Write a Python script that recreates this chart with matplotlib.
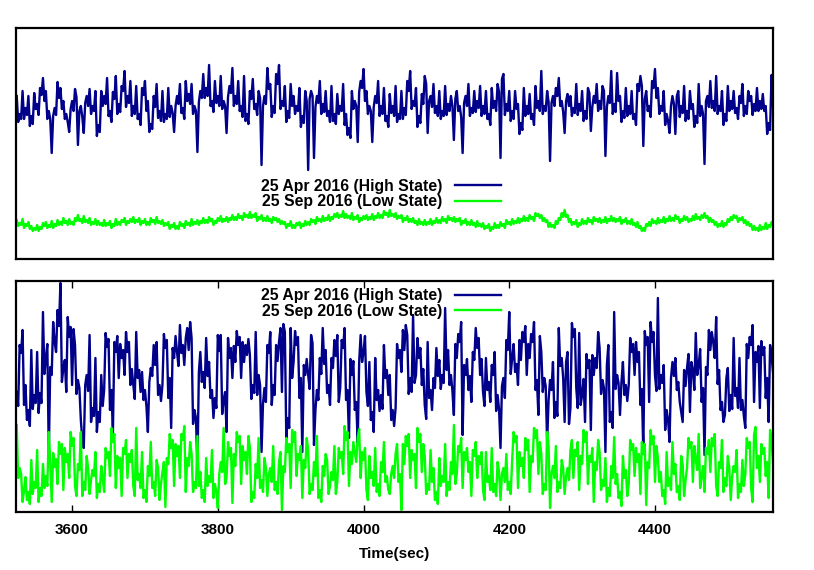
import numpy as np
import matplotlib
matplotlib.use("Agg")
import matplotlib.pyplot as plt

plt.rcParams['font.family'] = ['Liberation Sans', 'DejaVu Sans']

# ---- time axis (s) ----
t_start = 3524
t_step = 2

# ---- top panel: 25 Apr 2016 (High State), relative rate ----
top_high = [
    159, 133, 141, 136, 164, 136, 147, 140, 159, 129, 139, 131, 162, 146, 151, 140, 167, 160, 177, 154,
    164, 136, 144, 136, 102, 139, 147, 140, 173, 157, 167, 146, 154, 136, 141, 133, 123, 146, 154, 144,
    166, 158, 110, 144, 149, 138, 122, 152, 159, 149, 166, 141, 149, 144, 164, 119, 130, 123, 164, 149,
    159, 151, 177, 139, 144, 133, 163, 156, 179, 141, 151, 143, 169, 164, 184, 148, 159, 152, 174, 139,
    149, 141, 169, 136, 141, 130, 167, 160, 174, 144, 154, 123, 131, 126, 159, 148, 171, 137, 144, 134,
    164, 133, 141, 136, 167, 138, 149, 142, 123, 149, 159, 151, 171, 142, 147, 136, 174, 154, 161, 151,
    171, 141, 149, 144, 103, 153, 164, 157, 181, 157, 167, 159, 190, 149, 154, 143, 174, 152, 159, 149,
    179, 146, 154, 149, 122, 158, 169, 162, 187, 149, 159, 151, 174, 144, 149, 138, 179, 134, 141, 131,
    164, 156, 176, 146, 151, 140, 164, 157, 90, 149, 159, 151, 187, 166, 171, 138, 149, 142, 181, 171,
    190, 146, 154, 149, 169, 133, 144, 137, 171, 149, 159, 141, 149, 144, 167, 128, 139, 132, 164, 154,
    85, 156, 164, 159, 97, 148, 159, 152, 174, 141, 151, 143, 164, 139, 144, 133, 169, 134, 141, 131,
    161, 141, 149, 144, 171, 130, 141, 120, 127, 117, 164, 146, 154, 149, 113, 163, 174, 167, 186, 154,
    164, 141, 149, 144, 113, 148, 159, 152, 174, 139, 149, 141, 167, 134, 139, 128, 161, 142, 149, 139,
    169, 133, 141, 136, 164, 136, 147, 140, 174, 164, 184, 146, 154, 149, 167, 128, 139, 132, 161, 151,
    179, 171, 122, 154, 159, 148, 171, 142, 149, 139, 164, 136, 144, 139, 169, 140, 151, 144, 159, 149,
    115, 156, 164, 144, 149, 138, 102, 152, 159, 149, 171, 139, 147, 142, 164, 143, 154, 147, 169, 139,
    149, 141, 164, 136, 141, 130, 167, 147, 154, 144, 171, 163, 97, 176, 181, 140, 151, 144, 164, 134,
    144, 136, 164, 146, 151, 121, 132, 125, 167, 139, 149, 141, 161, 136, 141, 130, 169, 147, 154, 144,
    184, 141, 149, 144, 164, 153, 94, 152, 159, 149, 167, 159, 177, 149, 154, 143, 122, 154, 161, 149,
    159, 139, 147, 142, 171, 140, 151, 144, 164, 134, 144, 136, 167, 162, 124, 148, 159, 152, 171, 144,
    154, 146, 169, 164, 99, 148, 159, 152, 184, 141, 151, 143, 182, 154, 159, 133, 144, 137, 167, 139,
    149, 141, 164, 136, 141, 130, 171, 164, 179, 169, 109, 156, 164, 144, 149, 138, 174, 167, 186, 157,
    167, 141, 149, 144, 164, 130, 141, 134, 122, 149, 159, 151, 121, 159, 164, 138, 149, 142, 169, 134,
    144, 136, 164, 146, 151, 128, 139, 132, 171, 139, 149, 141, 91, 154, 159, 148, 174, 147, 154, 144,
    179, 141, 149, 144, 164, 130, 141, 134, 169, 144, 154, 146, 164, 142, 147, 136, 159, 152, 171, 139,
    149, 141, 164, 154, 159, 140, 151, 144, 167, 144, 154, 146, 161, 144, 149, 121, 132, 125, 180, 150,
]

# ---- top panel: 25 Sep 2016 (Low State) ----
top_low = [
    35, 29, 32, 30, 36, 27, 31, 29, 33, 26, 29, 24, 27, 25, 30, 24, 28, 26, 32, 29,
    33, 27, 30, 28, 34, 27, 31, 29, 35, 30, 33, 30, 37, 32, 34, 30, 36, 31, 33, 30,
    37, 34, 40, 34, 36, 32, 39, 33, 35, 32, 37, 30, 33, 31, 36, 30, 34, 30, 32, 29,
    35, 29, 32, 30, 34, 27, 31, 29, 36, 30, 33, 30, 35, 33, 37, 30, 34, 32, 36, 33,
    38, 32, 35, 33, 37, 30, 34, 32, 36, 30, 33, 30, 37, 33, 35, 31, 38, 32, 34, 31,
    35, 29, 32, 30, 33, 26, 30, 28, 32, 26, 29, 26, 33, 29, 31, 27, 34, 30, 32, 29,
    36, 30, 33, 31, 35, 30, 34, 32, 37, 32, 35, 32, 38, 34, 36, 30, 34, 32, 37, 34,
    39, 33, 36, 34, 38, 33, 37, 35, 40, 35, 38, 35, 41, 37, 39, 35, 42, 38, 40, 37,
    43, 37, 40, 38, 42, 34, 38, 36, 40, 34, 37, 34, 39, 34, 36, 32, 38, 35, 37, 33,
    36, 31, 34, 31, 33, 27, 31, 29, 34, 27, 30, 27, 32, 30, 33, 27, 31, 29, 34, 30,
    33, 30, 36, 33, 35, 31, 38, 34, 36, 33, 39, 34, 37, 35, 40, 34, 38, 36, 41, 38,
    42, 37, 40, 38, 44, 37, 41, 37, 39, 36, 42, 35, 38, 36, 40, 33, 37, 35, 39, 36,
    40, 35, 38, 36, 41, 35, 39, 37, 42, 37, 40, 37, 44, 40, 42, 38, 45, 39, 41, 38,
    42, 36, 39, 37, 40, 33, 37, 35, 39, 33, 36, 33, 37, 32, 34, 30, 36, 31, 33, 30,
    35, 30, 33, 31, 36, 30, 34, 32, 37, 32, 35, 32, 38, 34, 36, 32, 39, 35, 37, 34,
    38, 33, 36, 34, 37, 30, 34, 32, 36, 30, 33, 30, 35, 30, 32, 28, 34, 29, 31, 28,
    32, 26, 29, 27, 31, 24, 28, 26, 32, 27, 30, 27, 33, 29, 31, 27, 35, 31, 33, 30,
    36, 31, 34, 32, 37, 32, 36, 34, 39, 34, 37, 34, 40, 36, 38, 34, 42, 39, 41, 37,
    40, 34, 37, 33, 35, 28, 32, 28, 30, 27, 34, 31, 37, 35, 42, 38, 45, 38, 40, 33,
    36, 30, 33, 31, 35, 28, 32, 30, 36, 31, 34, 31, 37, 33, 35, 31, 38, 34, 36, 33,
    37, 32, 35, 33, 38, 32, 36, 34, 39, 34, 37, 33, 36, 34, 38, 31, 35, 33, 37, 31,
    34, 31, 36, 30, 32, 28, 33, 27, 29, 24, 27, 24, 31, 29, 33, 29, 36, 32, 34, 31,
    37, 32, 35, 33, 38, 32, 36, 34, 39, 34, 37, 34, 40, 36, 38, 32, 36, 34, 39, 35,
    38, 33, 36, 34, 39, 35, 41, 36, 38, 35, 40, 37, 42, 37, 39, 33, 37, 33, 35, 30,
    33, 28, 31, 29, 34, 28, 32, 30, 36, 33, 38, 35, 40, 37, 39, 33, 37, 35, 38, 32,
    35, 30, 33, 29, 31, 25, 29, 25, 27, 24, 30, 25, 28, 26, 32, 26, 30, 28, 33, 30,
]

# ---- bottom panel: 25 Apr 2016 (High State) ----
bot_high = [
    120, 106, 167, 159, 182, 107, 127, 92, 102, 86, 162, 103, 117, 109, 160, 99, 119, 109, 200, 138,
    154, 168, 57, 145, 137, 190, 170, 160, 202, 186, 229, 130, 144, 152, 120, 195, 175, 185, 127, 183,
    167, 118, 132, 124, 92, 72, 64, 127, 137, 121, 177, 90, 104, 96, 154, 80, 100, 90, 137, 106,
    122, 179, 165, 173, 102, 122, 79, 170, 160, 176, 134, 168, 154, 162, 137, 180, 160, 170, 127, 143,
    127, 113, 180, 134, 142, 120, 140, 112, 122, 106, 80, 130, 144, 136, 167, 147, 170, 117, 127, 111,
    127, 178, 164, 172, 114, 134, 84, 164, 154, 176, 160, 146, 187, 159, 167, 147, 174, 184, 162, 190,
    174, 88, 102, 94, 44, 140, 160, 130, 140, 124, 174, 136, 150, 114, 122, 94, 114, 104, 177, 161,
    177, 98, 112, 120, 80, 174, 154, 164, 134, 166, 150, 181, 167, 175, 134, 170, 150, 167, 157, 173,
    157, 113, 127, 119, 180, 117, 137, 127, 60, 108, 124, 110, 167, 159, 180, 107, 127, 117, 167, 151,
    170, 184, 120, 188, 180, 74, 94, 84, 184, 134, 150, 181, 167, 175, 114, 134, 60, 147, 137, 153,
    137, 123, 177, 169, 67, 102, 122, 112, 154, 138, 184, 148, 162, 119, 127, 107, 154, 144, 172, 156,
    177, 110, 124, 172, 164, 184, 112, 122, 74, 153, 137, 151, 102, 110, 69, 150, 177, 150, 160, 176,
    120, 106, 150, 92, 100, 80, 154, 112, 122, 101, 117, 103, 167, 134, 142, 117, 137, 92, 102, 86,
    104, 168, 154, 162, 140, 182, 162, 187, 177, 118, 134, 120, 197, 129, 137, 174, 154, 164, 127, 143,
    107, 93, 170, 114, 122, 102, 134, 124, 164, 136, 152, 123, 137, 129, 204, 142, 162, 127, 137, 121,
    97, 168, 154, 178, 170, 190, 77, 147, 137, 153, 122, 136, 110, 160, 152, 184, 164, 174, 137, 153,
    120, 106, 154, 122, 130, 110, 147, 137, 160, 101, 117, 103, 64, 126, 134, 114, 172, 162, 200, 138,
    154, 168, 140, 148, 127, 172, 152, 180, 170, 186, 137, 168, 154, 178, 170, 190, 122, 132, 97, 176,
    160, 120, 134, 126, 70, 112, 132, 122, 150, 94, 110, 96, 184, 146, 154, 134, 90, 150, 160, 88,
    104, 189, 175, 183, 124, 104, 179, 107, 117, 133, 90, 158, 144, 152, 82, 157, 137, 154, 144, 180,
    164, 118, 132, 124, 60, 147, 167, 90, 100, 84, 200, 123, 137, 129, 97, 130, 150, 117, 127, 111,
    127, 174, 160, 168, 137, 170, 150, 160, 107, 123, 60, 181, 167, 175, 110, 190, 170, 180, 137, 121,
    214, 123, 137, 129, 147, 82, 102, 92, 70, 134, 150, 136, 154, 122, 130, 110, 100, 90, 142, 126,
    144, 158, 100, 150, 142, 122, 179, 137, 147, 163, 110, 124, 57, 145, 137, 182, 162, 180, 170, 154,
    195, 128, 142, 102, 110, 90, 97, 134, 144, 101, 117, 103, 174, 116, 124, 104, 154, 102, 112, 96,
    84, 168, 154, 175, 167, 187, 110, 160, 150, 166, 104, 171, 157, 165, 114, 134, 90, 167, 157, 140,
]

# ---- bottom panel: 25 Sep 2016 (Low State) ----
bot_low = [
    87, 34, 44, 38, 10, 21, 35, 12, 20, 8, 52, 18, 30, 24, 62, 10, 24, 16, 48, 24,
    36, 26, 80, 50, 10, 59, 45, 53, 28, 70, 58, 68, 22, 64, 50, 58, 34, 80, 66, 74,
    26, 16, 48, 42, 80, 16, 30, 22, 56, 44, 18, 32, 42, 36, 60, 14, 28, 20, 46, 34,
    20, 64, 54, 60, 36, 84, 70, 78, 24, 56, 44, 54, 16, 64, 58, 72, 34, 58, 50, 62,
    26, 16, 84, 32, 38, 24, 60, 14, 22, 10, 46, 36, 70, 24, 30, 16, 52, 44, 12, 28,
    40, 50, 5, 54, 48, 78, 64, 72, 26, 68, 56, 66, 34, 78, 72, 86, 20, 54, 46, 70,
    58, 20, 30, 24, 76, 26, 40, 14, 22, 10, 54, 26, 36, 30, 62, 14, 28, 20, 4, 38,
    50, 40, 84, 28, 34, 70, 56, 64, 9, 58, 46, 80, 70, 76, 28, 66, 52, 60, 38, 76,
    64, 10, 20, 14, 48, 34, 74, 24, 32, 20, 54, 44, 16, 38, 44, 30, 66, 22, 30, 18,
    50, 60, 2, 46, 40, 74, 60, 68, 24, 82, 70, 80, 36, 58, 52, 66, 14, 52, 44, 74,
    62, 18, 28, 22, 50, 36, 76, 14, 22, 10, 46, 36, 58, 52, 18, 26, 40, 32, 66, 18,
    30, 64, 54, 60, 38, 86, 72, 80, 26, 60, 48, 70, 60, 50, 75, 83, 34, 60, 52, 64,
    22, 12, 56, 34, 40, 26, 64, 20, 28, 16, 50, 40, 70, 30, 36, 22, 18, 38, 46, 34,
    58, 68, 30, 38, 2, 68, 48, 76, 66, 78, 34, 62, 52, 58, 24, 84, 70, 78, 40, 68,
    56, 18, 28, 22, 62, 30, 44, 12, 20, 8, 54, 26, 36, 30, 68, 16, 30, 22, 50, 38,
    87, 28, 38, 66, 60, 74, 24, 60, 52, 64, 40, 50, 16, 62, 56, 70, 34, 56, 48, 60,
    22, 12, 60, 30, 36, 22, 64, 20, 28, 16, 50, 40, 12, 38, 44, 30, 58, 22, 30, 18,
    52, 80, 70, 76, 24, 60, 46, 54, 34, 74, 62, 72, 20, 56, 50, 84, 74, 82, 38, 70,
    58, 18, 28, 22, 80, 66, 4, 38, 46, 34, 66, 20, 30, 24, 52, 44, 18, 36, 44, 32,
    62, 72, 34, 62, 56, 70, 22, 56, 48, 82, 70, 80, 28, 56, 50, 64, 10, 50, 42, 72,
    60, 22, 32, 26, 54, 10, 24, 16, 46, 34, 75, 28, 38, 14, 20, 6, 56, 34, 42, 16,
    28, 72, 62, 68, 36, 64, 50, 58, 18, 70, 58, 68, 7, 50, 44, 82, 68, 76, 30, 66,
    54, 30, 40, 16, 22, 8, 60, 26, 34, 22, 70, 38, 48, 20, 26, 12, 56, 48, 16, 32,
    44, 74, 64, 70, 30, 66, 52, 42, 78, 24, 36, 46, 20, 64, 58, 72, 40, 74, 66, 78,
    26, 16, 50, 44, 72, 20, 34, 26, 56, 44, 12, 36, 46, 40, 62, 14, 28, 20, 52, 26,
    38, 74, 64, 70, 24, 10, 77, 85, 44, 56, 30, 68, 58, 64, 36, 50, 14, 82, 70, 50,
]

labels = ["25 Apr 2016 (High State)", "25 Sep 2016 (Low State)"]
colors = ["#00008b", "#00ff00"]
xticks = [3600, 3800, 4000, 4200, 4400]
xlim = (3523, 4562)

t = t_start + t_step * np.arange(len(top_high))

W, H = 814, 570
fig = plt.figure(figsize=(W / 100, H / 100), dpi=100)

def ax_rect(l, tp, r, b):
    return [l / W, 1 - b / H, (r - l) / W, (b - tp) / H]

ax1 = fig.add_axes(ax_rect(16, 28, 773, 259))
ax2 = fig.add_axes(ax_rect(16, 281, 773, 512))

for ax, hi, lo, legy, ylim in [(ax1, top_high, top_low, 0.281, (-4, 227)),
                                (ax2, bot_high, bot_low, 0.903, (0, 231))]:
    ax.plot(t, hi, color=colors[0], lw=1.7, label=labels[0])
    ax.plot(t, lo, color=colors[1], lw=1.7, label=labels[1])
    ax.set_xlim(*xlim)
    ax.set_ylim(*ylim)
    ax.set_yticks([])
    for s in ax.spines.values():
        s.set_linewidth(1.6)
    ax.legend(loc='center', bbox_to_anchor=(0.482, legy), frameon=False,
              markerfirst=False, handlelength=2.9, handletextpad=0.8,
              labelspacing=0.05, borderpad=0,
              prop={'weight': 'bold', 'size': 11.3})

ax1.set_xticks([])
ax2.set_xticks(xticks)
ax2.set_xticklabels([str(v) for v in xticks], fontsize=11, fontweight='bold')
ax2.tick_params(axis='x', direction='in', top=True, bottom=True, length=5, width=1, pad=8)
ax2.set_xlabel("Time(sec)", fontsize=11, fontweight='bold', labelpad=7)

fig.savefig("out.png", dpi=100)
